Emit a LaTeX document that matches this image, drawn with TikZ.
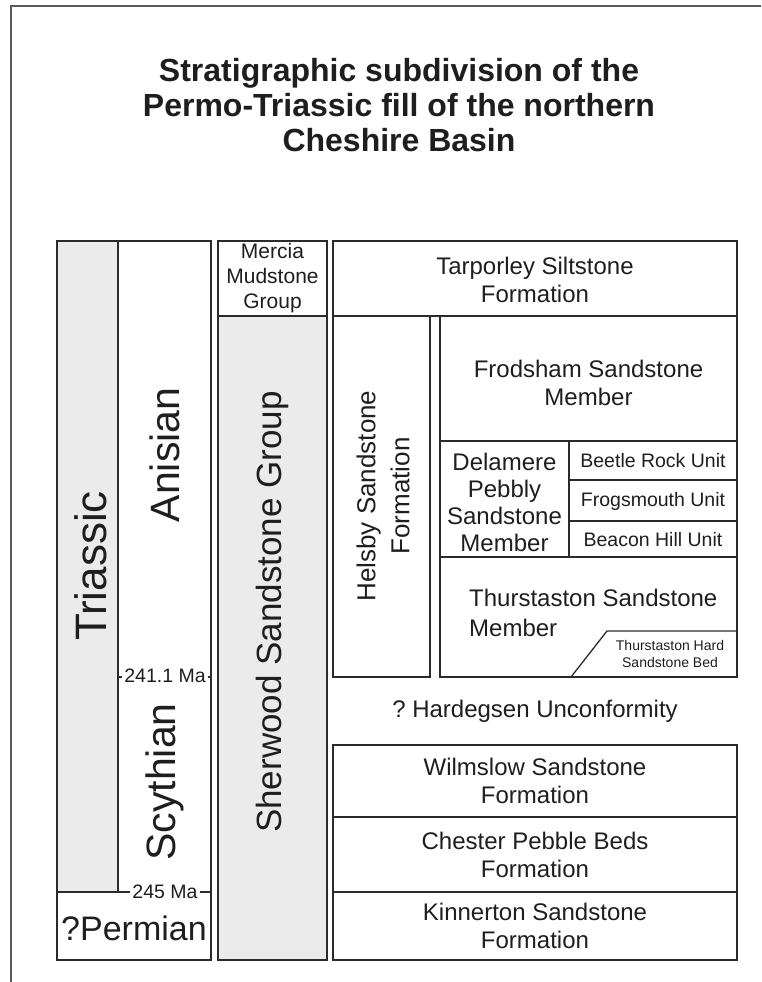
\documentclass[tikz,border=0pt]{standalone}
\usepackage{fontspec}
\setmainfont{Liberation Sans}
\definecolor{linecol}{HTML}{2B2B2B}
\definecolor{fillgrey}{HTML}{EBEBEB}
\definecolor{textcol}{HTML}{1E1E1E}
\definecolor{framecol}{HTML}{5A5A5A}
\newcommand{\myfs}[2]{\fontsize{#1}{#2}\selectfont}
\frenchspacing
\begin{document}
\begin{tikzpicture}[x=1pt,y=-1pt,
  box/.style={draw=linecol, line width=1.3pt},
  greybox/.style={box, fill=fillgrey},
  txt/.style={text=textcol, inner sep=0pt, align=center},
  big/.style={txt, font=\myfs{24}{28}},
  huge/.style={txt, font=\myfs{41}{46}, rotate=90},
  unit/.style={txt, font=\myfs{19.5}{22}},
  malabel/.style={txt, font=\myfs{19.5}{22}, fill=white, inner xsep=2pt, inner ysep=1pt}]
\useasboundingbox (0,0) rectangle (761,982);
\draw[framecol, line width=2pt] (761,6.5) -- (11,6.5) -- (11,982);

\node[txt, font=\myfs{32}{35}\bfseries] (title) at (399,105)
  {Stratigraphic subdivision of the\\Permo-Triassic fill of the northern\\Cheshire Basin};

% era column
\draw[greybox] (57,241) rectangle (118,892);
\draw[box] (118,241) rectangle (211,892);
\draw[box] (57,892) rectangle (211,960);
\draw[box] (118,677) -- (211,677);
\node[huge, font=\myfs{44}{48}] (triassic) at (91,566) {Triassic};
\node[huge] (anisian) at (165,455) {Anisian};
\node[huge] (scythian) at (165,782) {Scythian};
\node[txt, font=\myfs{34}{40}] (permian) at (134,928) {?Permian};
\node[malabel] (ma241) at (165,676) {241.1 Ma};
\node[malabel] (ma245) at (165,892) {245 Ma};

% group column
\draw[box] (218,241) rectangle (327,316);
\draw[greybox] (218,316) rectangle (327,960);
\node[txt, font=\myfs{21}{25}] (mercia) at (272.5,278) {Mercia\\Mudstone\\Group};
\node[txt, font=\myfs{35}{40}, rotate=90] (sherwood) at (272,612) {Sherwood Sandstone Group};

% formation column
\draw[box] (333,241) rectangle (737,316);
\draw[box] (333,316) rectangle (430,677);
\draw[box] (440,316) rectangle (737,441);
\draw[box] (440,441) rectangle (569,557);
\draw[box] (569,441) rectangle (737,480);
\draw[box] (569,480) rectangle (737,521);
\draw[box] (569,521) rectangle (737,557);
\draw[box] (440,557) rectangle (737,677);
\draw[box] (571,677) -- (607,631) -- (737,631);
\draw[box] (333,745) rectangle (737,817);
\draw[box] (333,817) rectangle (737,892);
\draw[box] (333,892) rectangle (737,960);

\node[big] (tarporley) at (535,280) {Tarporley Siltstone\\Formation};
\node[txt, font=\myfs{26}{34}, rotate=90] (helsby) at (383,496) {Helsby Sandstone\\Formation};
\node[big] (frodsham) at (588.5,383) {Frodsham Sandstone\\Member};
\node[txt, font=\myfs{24}{27}] (delamere) at (504.5,502) {Delamere\\Pebbly\\Sandstone\\Member};
\node[unit] (beetle) at (653,461) {Beetle Rock Unit};
\node[unit] (frogs) at (653,501) {Frogsmouth Unit};
\node[unit] (beacon) at (653,539.5) {Beacon Hill Unit};
\node[txt, font=\myfs{24}{30}, align=left, anchor=west] (thurst) at (469,613) {Thurstaston Sandstone\\Member};
\node[txt, font=\myfs{14}{17}] (bed) at (670,654) {Thurstaston Hard\\Sandstone Bed};
\node[big] (hardegsen) at (535,711) {? Hardegsen Unconformity};
\node[big] (wilmslow) at (535,781) {Wilmslow Sandstone\\Formation};
\node[big] (chester) at (535,855) {Chester Pebble Beds\\Formation};
\node[big] (kinnerton) at (535,926) {Kinnerton Sandstone\\Formation};
\end{tikzpicture}
\end{document}
